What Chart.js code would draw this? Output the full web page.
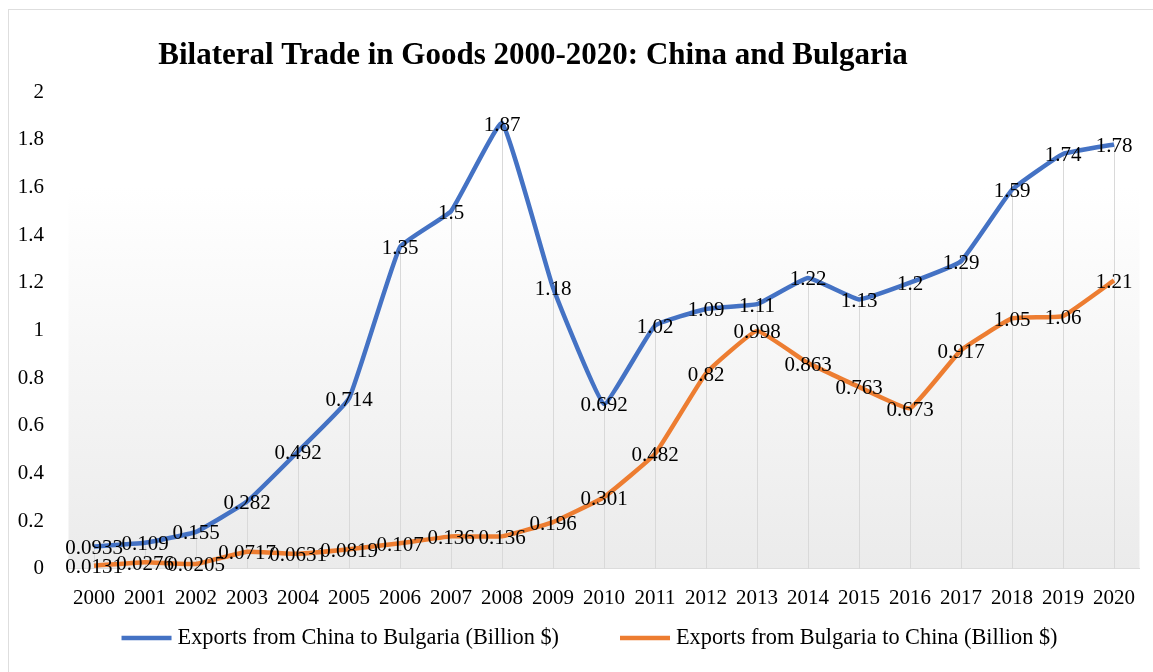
<!DOCTYPE html>
<html>
<head>
<meta charset="utf-8">
<script src="https://cdn.jsdelivr.net/npm/chart.js@4.4.0/dist/chart.umd.min.js"></script>
<style>
  html, body { margin: 0; padding: 0; background: #fff; }
  .frame { position: absolute; left: 8px; top: 9px; width: 1300px; height: 800px;
           border-left: 1px solid #dedede; border-top: 1px solid #dedede; }
  .wrap { position: absolute; left: 0; top: 0; width: 1153px; height: 672px; }
</style>
</head>
<body>
<div class="frame"></div>
<div class="wrap"><canvas id="tradeChart" width="1153" height="672"></canvas></div>
<script>
const FONT = "'Liberation Serif', 'Times New Roman', serif";

const years = ['2000', '2001', '2002', '2003', '2004', '2005', '2006', '2007', '2008', '2009', '2010',
               '2011', '2012', '2013', '2014', '2015', '2016', '2017', '2018', '2019', '2020'];

// billion US$
const chinaToBulgaria = [0.0933, 0.109, 0.155, 0.282, 0.492, 0.714, 1.35, 1.5, 1.87, 1.18, 0.692,
                         1.02, 1.09, 1.11, 1.22, 1.13, 1.2, 1.29, 1.59, 1.74, 1.78];
const bulgariaToChina = [0.0131, 0.0276, 0.0205, 0.0717, 0.0631, 0.0819, 0.107, 0.136, 0.136, 0.196, 0.301,
                         0.482, 0.82, 0.998, 0.863, 0.763, 0.673, 0.917, 1.05, 1.06, 1.21];

const yTicks = [0, 0.2, 0.4, 0.6, 0.8, 1, 1.2, 1.4, 1.6, 1.8, 2];

const titleText = 'Bilateral Trade in Goods 2000-2020: China and Bulgaria';

// grey plot area fading to white at the top
const plotBackground = {
  id: 'plotBackground',
  beforeDraw(chart) {
    const { ctx, chartArea: a } = chart;
    const g = ctx.createLinearGradient(0, a.top, 0, a.bottom);
    g.addColorStop(0, '#ffffff');
    g.addColorStop(0.2, '#ffffff');
    g.addColorStop(1, '#ebebeb');
    ctx.save();
    ctx.fillStyle = g;
    ctx.fillRect(a.left, a.top, a.right - a.left, a.bottom - a.top);
    ctx.restore();
  }
};

// drop lines from the higher of the two series down to the axis
const dropLines = {
  id: 'dropLines',
  beforeDatasetsDraw(chart) {
    const { ctx, scales: { x, y } } = chart;
    ctx.save();
    ctx.strokeStyle = '#d9d9d9';
    ctx.lineWidth = 1;
    years.forEach((yr, i) => {
      const px = Math.round(x.getPixelForValue(i)) + 0.5;
      const top = y.getPixelForValue(Math.max(chinaToBulgaria[i], bulgariaToChina[i]));
      ctx.beginPath();
      ctx.moveTo(px, top);
      ctx.lineTo(px, y.getPixelForValue(0));
      ctx.stroke();
    });
    ctx.restore();
  }
};

// value labels centred on each point
const pointLabels = {
  id: 'pointLabels',
  afterDatasetsDraw(chart) {
    const { ctx } = chart;
    ctx.save();
    ctx.font = '21px ' + FONT;
    ctx.fillStyle = '#000';
    ctx.textAlign = 'center';
    ctx.textBaseline = 'middle';
    chart.data.datasets.forEach((ds, di) => {
      chart.getDatasetMeta(di).data.forEach((pt, i) => {
        ctx.fillText(String(ds.data[i]), pt.x, pt.y + 2);
      });
    });
    ctx.restore();
  }
};

const chartTitle = {
  id: 'chartTitle',
  afterDraw(chart) {
    const { ctx } = chart;
    ctx.save();
    ctx.font = 'bold 31px ' + FONT;
    ctx.fillStyle = '#000';
    ctx.textAlign = 'center';
    ctx.textBaseline = 'middle';
    ctx.fillText(titleText, 533, 56);
    ctx.restore();
  }
};

// one-row legend under the axis: line sample + series name
const legendRow = {
  id: 'legendRow',
  afterDraw(chart) {
    const { ctx } = chart;
    const sample = 50, gapText = 6, gapItem = 61, rowY = 638;
    ctx.save();
    ctx.font = '22.3px ' + FONT;
    ctx.textBaseline = 'middle';
    ctx.textAlign = 'left';
    const items = chart.data.datasets.map(ds => ({
      text: ds.label, color: ds.borderColor, w: sample + gapText + ctx.measureText(ds.label).width
    }));
    const total = items.reduce((s, it) => s + it.w, 0) + gapItem * (items.length - 1);
    let x = 589.5 - total / 2;
    items.forEach(it => {
      ctx.strokeStyle = it.color;
      ctx.lineWidth = 4.5;
      ctx.beginPath();
      ctx.moveTo(x, rowY);
      ctx.lineTo(x + sample, rowY);
      ctx.stroke();
      ctx.fillStyle = '#000';
      ctx.fillText(it.text, x + sample + gapText, rowY);
      x += it.w + gapItem;
    });
    ctx.restore();
  }
};

new Chart(document.getElementById('tradeChart'), {
  type: 'line',
  data: {
    labels: years,
    datasets: [{
      label: 'Exports from China to Bulgaria (Billion $)',
      data: chinaToBulgaria,
      borderColor: '#4472c4',
      backgroundColor: '#4472c4',
      borderWidth: 4.5,
      pointRadius: 0,
      tension: 0.1
    }, {
      label: 'Exports from Bulgaria to China (Billion $)',
      data: bulgariaToChina,
      borderColor: '#ed7d31',
      backgroundColor: '#ed7d31',
      borderWidth: 4.5,
      pointRadius: 0,
      tension: 0.1
    }]
  },
  options: {
    responsive: false,
    animation: false,
    layout: { padding: { top: 92, right: 13.5, bottom: 44, left: 0 } },
    scales: {
      x: {
        offset: true,
        grid: { display: false, drawTicks: false },
        border: { display: true, color: '#dcdcdc', width: 1 },
        ticks: { color: '#000', font: { family: FONT, size: 21 }, padding: 17, maxRotation: 0, autoSkip: false }
      },
      y: {
        min: 0,
        max: 2,
        grid: { display: false },
        border: { display: false },
        afterBuildTicks(scale) { scale.ticks = yTicks.map(v => ({ value: v })); },
        ticks: { color: '#000', font: { family: FONT, size: 21 }, padding: 16.5, callback: v => String(v) },
        afterFit(scale) { scale.width = 68.5; }
      }
    },
    plugins: {
      tooltip: { enabled: false },
      legend: { display: false }
    }
  },
  plugins: [plotBackground, dropLines, pointLabels, chartTitle, legendRow]
});
</script>
</body>
</html>
